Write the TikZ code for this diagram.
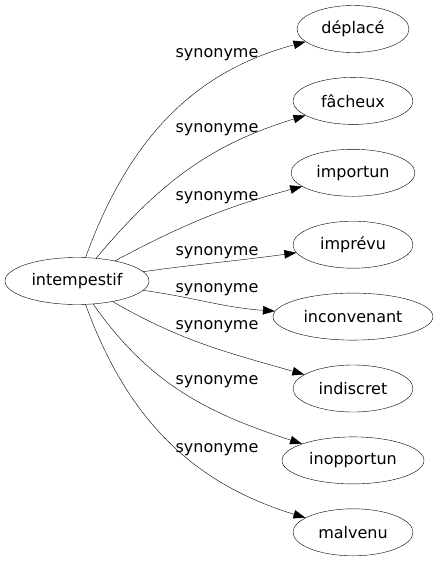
\documentclass[tikz,border=0pt]{standalone}
\usepackage{fontspec}
\setmainfont{DejaVu Sans}
\usetikzlibrary{positioning, arrows.meta, shapes.geometric}
\tikzset{
    ->, % directed edges
    >={Triangle[length=12pt, width=8.5pt]}, % filled arrow heads
    x=1pt, y=1pt,
    line width=1pt,
    every node/.style={font=\fontsize{16}{19}\selectfont},
    word/.style={draw, ellipse, inner sep=0pt, minimum height=47pt}, % the words
    rel/.style={anchor=base}, % edge labels
    node distance=71.9pt, % spacing of the synonyms
}
\begin{document}
\begin{tikzpicture}
    \useasboundingbox (0,0) rectangle (436,-563);
    \node[word, minimum width=144pt] (w0) at (77,-281) {intempestif};
    \node[word, minimum width=112pt] (w1) at (353,-29) {déplacé};
    \node[word, minimum width=120pt, below of=w1] (w2) {fâcheux};
    \node[word, minimum width=124pt, below of=w2] (w3) {importun};
    \node[word, minimum width=120pt, below of=w3] (w4) {imprévu};
    \node[word, minimum width=160pt, below of=w4] (w5) {inconvenant};
    \node[word, minimum width=120pt, below of=w5] (w6) {indiscret};
    \node[word, minimum width=142pt, below of=w6] (w7) {inopportun};
    \node[word, minimum width=120pt, below of=w7] (w8) {malvenu};
    \draw (w0) edge[out=70, in=195] (w1)
    (w0) edge[out=50, in=197] (w2)
    (w0) edge[out=28, in=195] (w3)
    (w0) edge[out=8, in=188] (w4)
    (w0) edge[out=-8, in=176] (w5)
    (w0) edge[out=-30, in=164] (w6)
    (w0) edge[out=-55, in=162] (w7)
    (w0) edge[out=-70, in=163] (w8);
    \node[rel] (r1) at (217,-57) {synonyme};
    \node[rel] (r2) at (217,-132) {synonyme};
    \node[rel] (r3) at (217,-200) {synonyme};
    \node[rel] (r4) at (217,-255) {synonyme};
    \node[rel] (r5) at (217,-292) {synonyme};
    \node[rel] (r6) at (217,-329) {synonyme};
    \node[rel] (r7) at (217,-384) {synonyme};
    \node[rel] (r8) at (217,-452) {synonyme};
\end{tikzpicture}
\end{document}
